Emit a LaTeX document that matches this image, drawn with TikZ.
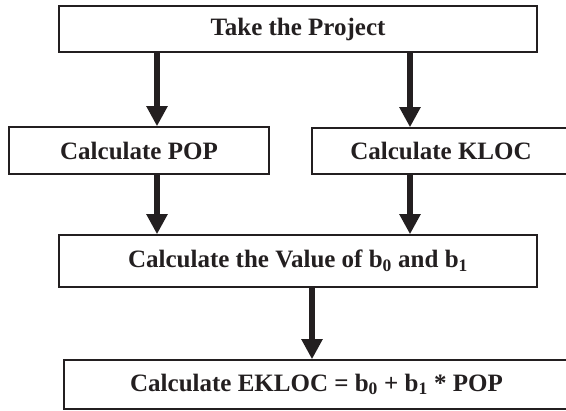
\documentclass[tikz,border=0pt]{standalone}
\usepackage{fontspec}
\setmainfont{Liberation Serif}
\usetikzlibrary{arrows.meta}
\definecolor{ink}{HTML}{231F20}
\begin{document}
\begin{tikzpicture}[x=1pt,y=-1pt,
  box/.style={draw=ink, line width=1.5pt, inner sep=0pt, rectangle,
    font=\fontsize{25}{30}\selectfont\bfseries, text=ink},
  arr/.style={draw=ink, line width=6.5pt, -{Triangle[width=20pt,length=20pt]}}]
\clip (0,0) rectangle (566,411);
\node[box, minimum width=478pt, minimum height=46pt] (take) at (298,29) {Take the Project};
\node[box, minimum width=260pt, minimum height=47pt] (pop) at (139,150.5) {Calculate POP};
\node[box, minimum width=258pt, minimum height=46pt] (kloc) at (441,151) {Calculate KLOC};
\node[box, minimum width=478pt, minimum height=52pt] (val) at (298,261) {Calculate the Value of b\textsubscript{0} and b\textsubscript{1}};
\node[box, minimum width=505pt, minimum height=49pt] (ek) at (316.5,384.5) {Calculate EKLOC = b\textsubscript{0} + b\textsubscript{1} * POP};
\coordinate (xl) at (157,0);
\coordinate (xr) at (410,0);
\coordinate (xm) at (312,0);
\draw[arr] (take.south -| xl) -- (pop.north -| xl);
\draw[arr] (take.south -| xr) -- (kloc.north -| xr);
\draw[arr] (pop.south -| xl) -- (val.north -| xl);
\draw[arr] (kloc.south -| xr) -- (val.north -| xr);
\draw[arr] (val.south -| xm) -- (ek.north -| xm);
\end{tikzpicture}
\end{document}
